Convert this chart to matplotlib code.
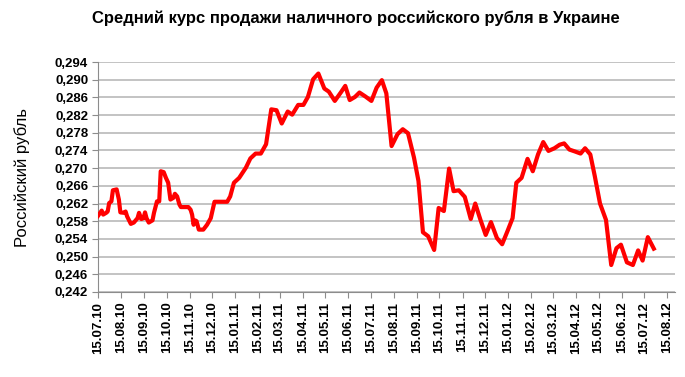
import numpy as np
import pandas as pd
import matplotlib
matplotlib.use("Agg")
import matplotlib.pyplot as plt
import matplotlib.dates as mdates
from matplotlib.ticker import FuncFormatter

# ============================================================
# DATA
# ============================================================

dates = [
    "2010-07-15", "2010-07-20", "2010-07-22", "2010-07-26", "2010-07-28",
    "2010-07-30", "2010-08-02", "2010-08-04", "2010-08-09", "2010-08-12",
    "2010-08-14", "2010-08-19", "2010-08-21", "2010-08-23", "2010-08-28",
    "2010-09-01", "2010-09-06", "2010-09-08", "2010-09-11", "2010-09-14",
    "2010-09-16", "2010-09-18", "2010-09-21", "2010-09-26", "2010-09-28",
    "2010-10-02", "2010-10-05", "2010-10-07", "2010-10-11", "2010-10-14",
    "2010-10-17", "2010-10-20", "2010-10-24", "2010-10-26", "2010-10-29",
    "2010-11-01", "2010-11-03", "2010-11-13", "2010-11-16", "2010-11-18",
    "2010-11-20", "2010-11-22", "2010-11-24", "2010-11-27", "2010-12-03",
    "2010-12-08", "2010-12-13", "2010-12-18", "2011-01-04", "2011-01-08",
    "2011-01-13", "2011-01-20", "2011-01-29", "2011-02-04", "2011-02-11",
    "2011-02-18", "2011-02-25", "2011-03-04", "2011-03-11", "2011-03-18",
    "2011-03-26", "2011-04-01", "2011-04-09", "2011-04-16", "2011-04-22",
    "2011-04-29", "2011-05-06", "2011-05-14", "2011-05-20", "2011-05-28",
    "2011-06-05", "2011-06-11", "2011-06-17", "2011-06-24", "2011-06-30",
    "2011-07-08", "2011-07-16", "2011-07-23", "2011-07-30", "2011-08-05",
    "2011-08-12", "2011-08-20", "2011-08-27", "2011-09-03", "2011-09-11",
    "2011-09-17", "2011-09-23", "2011-09-30", "2011-10-08", "2011-10-14",
    "2011-10-21", "2011-10-28", "2011-11-03", "2011-11-10", "2011-11-18",
    "2011-11-26", "2011-12-02", "2011-12-09", "2011-12-16", "2011-12-23",
    "2011-12-31", "2012-01-07", "2012-01-14", "2012-01-21", "2012-01-26",
    "2012-02-02", "2012-02-10", "2012-02-17", "2012-02-24", "2012-03-02",
    "2012-03-09", "2012-03-17", "2012-03-24", "2012-03-30", "2012-04-06",
    "2012-04-13", "2012-04-21", "2012-04-27", "2012-05-04", "2012-05-10",
    "2012-05-17", "2012-05-25", "2012-06-01", "2012-06-08", "2012-06-14",
    "2012-06-22", "2012-06-30", "2012-07-07", "2012-07-13", "2012-07-20",
    "2012-07-28",
]

rate = [
    0.2592, 0.2604, 0.2595, 0.2599, 0.2602,
    0.2621, 0.2625, 0.2650, 0.2652, 0.2629,
    0.2600, 0.2599, 0.2602, 0.2591, 0.2574,
    0.2577, 0.2587, 0.2599, 0.2585, 0.2587,
    0.2600, 0.2587, 0.2577, 0.2582, 0.2599,
    0.2625, 0.2625, 0.2693, 0.2691, 0.2678,
    0.2667, 0.2629, 0.2633, 0.2642, 0.2636,
    0.2618, 0.2612, 0.2612, 0.2606, 0.2595,
    0.2572, 0.2582, 0.2580, 0.2561, 0.2561,
    0.2572, 0.2587, 0.2624, 0.2624, 0.2636,
    0.2667, 0.2678, 0.2701, 0.2722, 0.2733,
    0.2733, 0.2754, 0.2833, 0.2831, 0.2801,
    0.2828, 0.2821, 0.2843, 0.2843, 0.2861,
    0.2901, 0.2914, 0.2880, 0.2873, 0.2852,
    0.2871, 0.2886, 0.2854, 0.2861, 0.2871,
    0.2862, 0.2852, 0.2882, 0.2899, 0.2869,
    0.2750, 0.2777, 0.2788, 0.2779, 0.2724,
    0.2671, 0.2555, 0.2546, 0.2515, 0.2610,
    0.2603, 0.2699, 0.2648, 0.2650, 0.2635,
    0.2585, 0.2620, 0.2583, 0.2549, 0.2578,
    0.2542, 0.2528, 0.2557, 0.2587, 0.2667,
    0.2678, 0.2721, 0.2693, 0.2731, 0.2759,
    0.2739, 0.2745, 0.2753, 0.2756, 0.2742,
    0.2738, 0.2733, 0.2745, 0.2731, 0.2682,
    0.2620, 0.2583, 0.2481, 0.2519, 0.2527,
    0.2487, 0.2481, 0.2514, 0.2491, 0.2544,
    0.2518,
]

# 15th of every month, 15.07.10 .. 15.08.12
tick_dates = pd.date_range("2010-07-01", "2012-08-01", freq="MS") + pd.Timedelta(days=14)
y_ticks = np.round(np.arange(0.242, 0.2945, 0.004), 3)

title = "Средний курс продажи наличного российского рубля в Украине"
ylabel = "Российский рубль"

# ============================================================
# PLOT
# ============================================================

plt.rcParams["font.family"] = ["Liberation Sans", "DejaVu Sans"]

x = pd.to_datetime(dates)

fig = plt.figure(figsize=(6.85, 3.77), dpi=100)
ax = fig.add_axes([0.143, 0.2255, 0.842, 0.61])

ax.plot(x, rate, color="#ff0000", lw=3.0, solid_joinstyle="round", zorder=3)

ax.set_ylim(0.242, 0.294)
ax.set_yticks(y_ticks)
ax.yaxis.set_major_formatter(FuncFormatter(lambda v, p: f"{v:.3f}".replace(".", ",")))
ax.grid(axis="y", color="#b9b9b9", lw=1.2)
ax.set_axisbelow(True)

ax.set_xlim(pd.Timestamp("2010-07-15"), pd.Timestamp("2012-08-25"))
ax.set_xticks(tick_dates)
ax.xaxis.set_major_formatter(mdates.DateFormatter("%d.%m.%y"))

for s in ["top", "right"]:
    ax.spines[s].set_visible(False)
for s in ["left", "bottom"]:
    ax.spines[s].set_color("#8c8c8c")
    ax.spines[s].set_linewidth(0.8)

ax.tick_params(axis="both", color="#8c8c8c", length=4, width=0.8)
ax.tick_params(axis="y", labelsize=9.5, pad=3)
ax.tick_params(axis="x", labelsize=9.5, labelrotation=90, pad=3)
for lab in ax.get_xticklabels() + ax.get_yticklabels():
    lab.set_fontweight("bold")

ax.set_ylabel(ylabel, fontsize=12, labelpad=18)
fig.suptitle(title, fontsize=12, fontweight="bold", x=0.52, y=0.972)

fig.savefig("out.png", dpi=100)
